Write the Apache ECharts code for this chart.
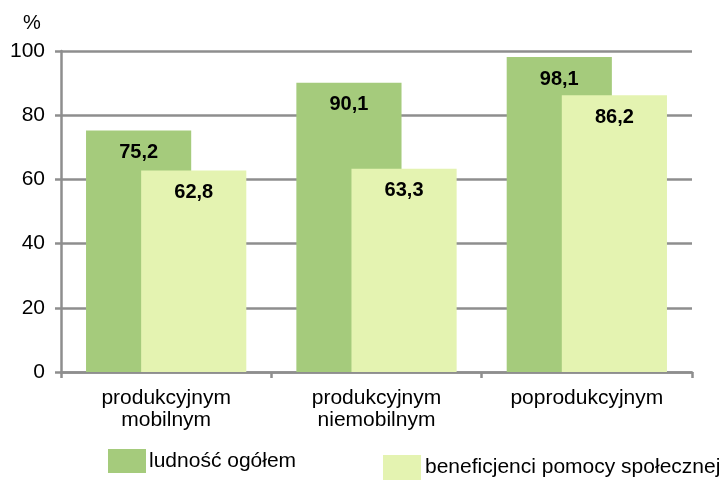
<!DOCTYPE html>
<html>
<head>
<meta charset="utf-8">
<script src="https://cdn.jsdelivr.net/npm/echarts@6/dist/echarts.min.js"></script>
<style>
  html, body { margin: 0; padding: 0; background: #fff; }
  #chart { width: 726px; height: 480px; }
</style>
</head>
<body>
<div id="chart"></div>
<script>
// Wiek (grupy) i odsetek osób w każdej grupie
const categories = ['produkcyjnym\nmobilnym', 'produkcyjnym\nniemobilnym', 'poprodukcyjnym'];
const seriesNames = ['ludność ogółem', 'beneficjenci pomocy społecznej'];
const ludnoscOgolem = [75.2, 90.1, 98.1];
const beneficjenci = [62.8, 63.3, 86.2];
const yTicks = [0, 20, 40, 60, 80, 100];

const FONT = '"Liberation Sans", Arial, sans-serif';
const GREEN = '#a5cb7c';
const LIGHT = '#e4f3b1';
const AXIS_GRAY = '#8e8e8e';

const chart = echarts.init(document.getElementById('chart'), null, { renderer: 'canvas' });

const valueLabel = {
  show: true,
  position: 'insideTop',
  distance: 12,
  color: '#000',
  fontFamily: FONT,
  fontWeight: 'bold',
  fontSize: 20,
  formatter: p => String(p.value).replace('.', ',')
};

chart.setOption({
  animation: false,
  backgroundColor: '#fff',
  textStyle: { fontFamily: FONT },
  grid: { left: 61, right: 34, top: 51, bottom: 108, containLabel: false },
  graphic: [{
    type: 'text',
    left: 23,
    top: 13,
    style: { text: '%', fontFamily: FONT, fontSize: 20, fill: '#000' }
  }],
  legend: [
    {
      data: [seriesNames[0]],
      left: 108, top: 449, padding: 0,
      itemWidth: 38, itemHeight: 24,
      icon: 'rect',
      textStyle: { fontFamily: FONT, fontSize: 21, color: '#000', padding: [0, 0, 0, -2] }
    },
    {
      data: [seriesNames[1]],
      left: 383, top: 455, padding: 0,
      itemWidth: 38, itemHeight: 25,
      icon: 'rect',
      textStyle: { fontFamily: FONT, fontSize: 21, color: '#000', padding: [0, 0, 0, -1] }
    }
  ],
  xAxis: {
    type: 'category',
    data: categories,
    axisLine: { show: true, lineStyle: { color: AXIS_GRAY, width: 2.5 } },
    axisTick: { show: true, length: 6, lineStyle: { color: AXIS_GRAY, width: 2.5 } },
    axisLabel: {
      color: '#000', fontFamily: FONT, fontSize: 21, lineHeight: 22, margin: 15,
      interval: 0
    }
  },
  yAxis: {
    type: 'value',
    min: yTicks[0],
    max: yTicks[yTicks.length - 1],
    interval: yTicks[1] - yTicks[0],
    axisLine: { show: true, lineStyle: { color: AXIS_GRAY, width: 2.5 } },
    axisTick: { show: true, length: 6, lineStyle: { color: AXIS_GRAY, width: 2.5 } },
    splitLine: { show: true, lineStyle: { color: AXIS_GRAY, width: 2.5 } },
    axisLabel: { color: '#000', fontFamily: FONT, fontSize: 21, margin: 16 }
  },
  series: [
    {
      name: seriesNames[0],
      type: 'bar',
      data: ludnoscOgolem,
      barWidth: '50%',
      barGap: '-47.6%',
      itemStyle: { color: GREEN },
      label: valueLabel
    },
    {
      name: seriesNames[1],
      type: 'bar',
      data: beneficjenci,
      barWidth: '50%',
      barGap: '-47.6%',
      itemStyle: { color: LIGHT },
      label: valueLabel
    }
  ]
});
</script>
</body>
</html>
